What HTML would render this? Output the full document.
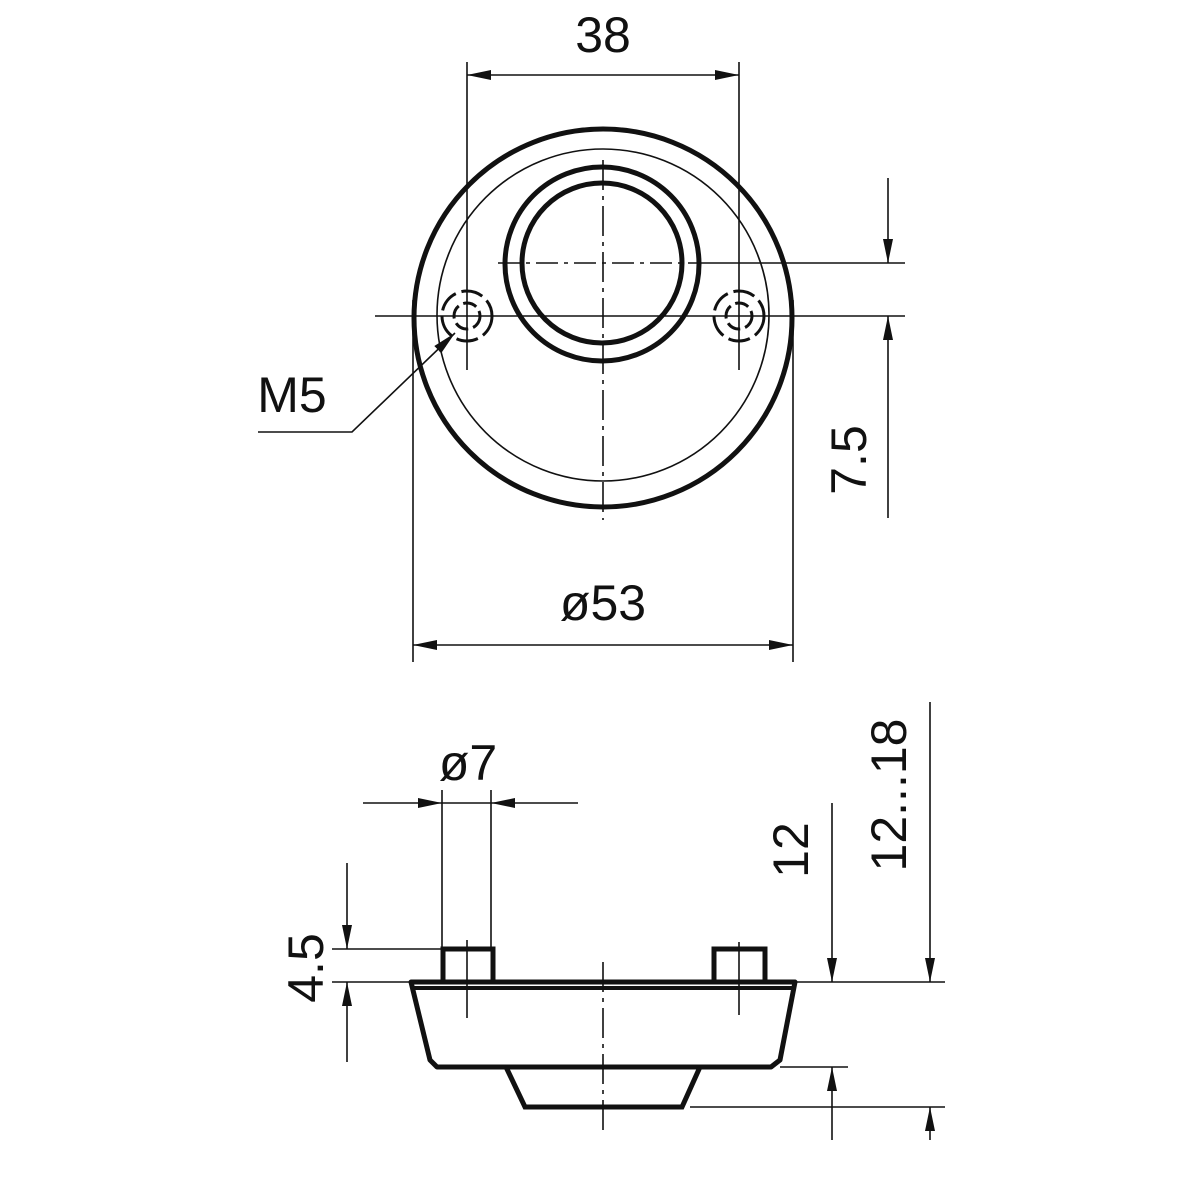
<!DOCTYPE html>
<html><head><meta charset="utf-8"><style>
html,body{margin:0;padding:0;background:#fff}
svg{display:block}
text{font-family:"Liberation Sans",sans-serif;fill:#111}
</style></head><body>
<svg width="1200" height="1200" viewBox="0 0 1200 1200" xmlns="http://www.w3.org/2000/svg">
<defs>
<marker id="a" viewBox="0 0 24 10" refX="24" refY="5" markerWidth="24" markerHeight="10" markerUnits="userSpaceOnUse" orient="auto-start-reverse"><path d="M0,0 L24,5 L0,10 Z" fill="#111"/></marker>
</defs>
<g stroke="#111" fill="none">
<circle cx="603" cy="318" r="189" stroke-width="5"/>
<circle cx="603" cy="315" r="166" stroke-width="1.6"/>
<circle cx="602" cy="264" r="97" stroke-width="5"/>
<circle cx="602" cy="263" r="80" stroke-width="5"/>
<g stroke-width="3">
<circle cx="467" cy="316" r="13" stroke-dasharray="14 5"/>
<circle cx="467" cy="316" r="25" stroke-dasharray="22 6"/>
<circle cx="739" cy="316" r="13" stroke-dasharray="14 5"/>
<circle cx="739" cy="316" r="25" stroke-dasharray="22 6"/>
</g>
<g stroke-width="1.6">
<line x1="603" y1="160" x2="603" y2="520" stroke-dasharray="30 6 4 6"/>
<line x1="498" y1="263" x2="700" y2="263" stroke-dasharray="22 6 4 6"/>
<line x1="700" y1="263" x2="905" y2="263"/>
<line x1="375" y1="316" x2="905" y2="316"/>
<line x1="467" y1="62" x2="467" y2="370"/>
<line x1="739" y1="62" x2="739" y2="370"/>
<line x1="413" y1="300" x2="413" y2="662"/>
<line x1="793" y1="300" x2="793" y2="662"/>
<line x1="467" y1="75" x2="739" y2="75" marker-start="url(#a)" marker-end="url(#a)"/>
<line x1="413" y1="645" x2="793" y2="645" marker-start="url(#a)" marker-end="url(#a)"/>
<line x1="888" y1="178" x2="888" y2="263" marker-end="url(#a)"/>
<line x1="888" y1="518" x2="888" y2="316" marker-end="url(#a)"/>
<polyline points="258,432 352,432 455,333" marker-end="url(#a)"/>
</g>
<path d="M411,982 L795,982 L780,1060 L771,1067 L437,1067 L430,1060 Z" stroke-width="5" stroke-linejoin="round"/>
<line x1="413" y1="988" x2="793" y2="988" stroke-width="4"/>
<path d="M506,1067 L525,1107 L682,1107 L700,1067" stroke-width="5"/>
<rect x="443" y="949" width="50" height="33" stroke-width="5"/>
<rect x="714" y="949" width="51" height="33" stroke-width="5"/>
<g stroke-width="1.6">
<line x1="603" y1="962" x2="603" y2="1132" stroke-dasharray="30 6 4 6"/>
<line x1="467" y1="940" x2="467" y2="1018"/>
<line x1="739" y1="942" x2="739" y2="1015"/>
<line x1="442" y1="790" x2="442" y2="949"/>
<line x1="491" y1="790" x2="491" y2="949"/>
<line x1="363" y1="803" x2="442" y2="803" marker-end="url(#a)"/>
<line x1="578" y1="803" x2="491" y2="803" marker-end="url(#a)"/>
<line x1="442" y1="803" x2="491" y2="803"/>
<line x1="332" y1="949" x2="443" y2="949"/>
<line x1="332" y1="982" x2="411" y2="982"/>
<line x1="347" y1="863" x2="347" y2="949" marker-end="url(#a)"/>
<line x1="347" y1="1062" x2="347" y2="982" marker-end="url(#a)"/>
<line x1="795" y1="982" x2="945" y2="982"/>
<line x1="780" y1="1067" x2="848" y2="1067"/>
<line x1="690" y1="1107" x2="945" y2="1107"/>
<line x1="832" y1="803" x2="832" y2="982" marker-end="url(#a)"/>
<line x1="832" y1="1140" x2="832" y2="1067" marker-end="url(#a)"/>
<line x1="930" y1="702" x2="930" y2="982" marker-end="url(#a)"/>
<line x1="930" y1="1140" x2="930" y2="1107" marker-end="url(#a)"/>
</g>
</g>
<g font-size="50">
<text x="603" y="52" text-anchor="middle">38</text>
<text x="603" y="620" text-anchor="middle">ø53</text>
<text x="292" y="412" text-anchor="middle">M5</text>
<text x="468" y="780" text-anchor="middle">ø7</text>
<text transform="translate(866,460) rotate(-90)" text-anchor="middle">7.5</text>
<text transform="translate(323,968) rotate(-90)" text-anchor="middle">4.5</text>
<text transform="translate(808,850) rotate(-90)" text-anchor="middle">12</text>
<text transform="translate(906,795) rotate(-90)" text-anchor="middle">12...18</text>
</g>
</svg>
</body></html>
